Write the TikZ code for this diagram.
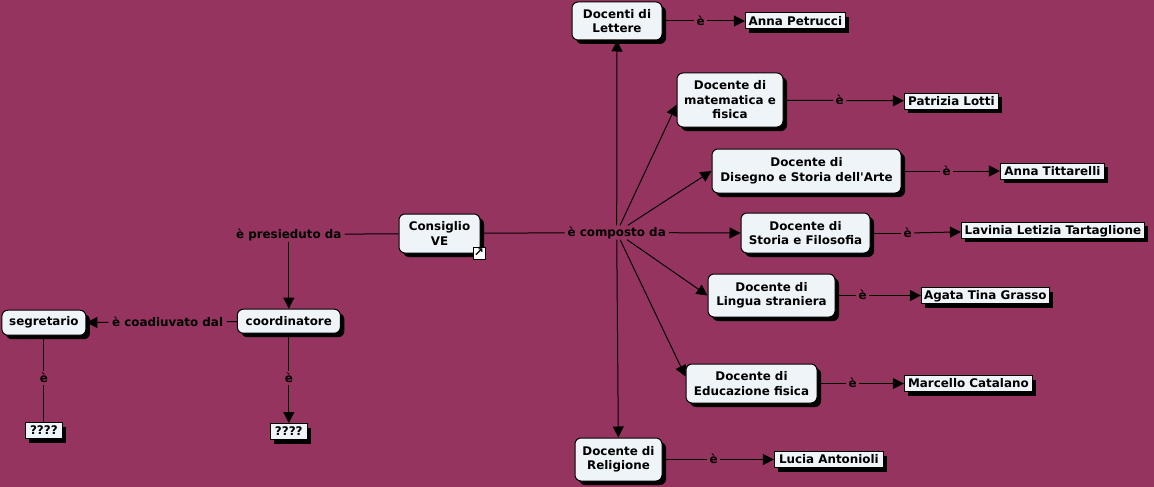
\documentclass[tikz,border=0pt]{standalone}
\usepackage{fontspec}
\newfontfamily\mapfamily{DejaVu Sans}
\usetikzlibrary{arrows.meta,positioning,shadows}
\definecolor{plumbg}{HTML}{963460}
\definecolor{boxfill}{HTML}{EEF4F7}
\newcommand{\mapfont}{\mapfamily\fontsize{11.9}{14.5}\selectfont\bfseries}
\tikzset{
  hardshadow/.style={drop shadow={shadow xshift=4pt, shadow yshift=-4pt, fill=black, opacity=1}},
  conceptbox/.style={draw=black, line width=1pt, rounded corners=6pt, align=center,
    fill=boxfill, inner sep=2pt, font=\mapfont, hardshadow},
  tallbox/.style={conceptbox, execute at begin node={\rule{0pt}{11.5pt}}},
  leafbox/.style={draw=black, line width=1pt, fill=boxfill, inner xsep=1pt, inner ysep=1pt,
    minimum height=16pt, text height=10pt, text depth=1.5pt, font=\mapfont, hardshadow},
  linklabel/.style={inner xsep=1pt, inner ysep=1pt, minimum height=14pt, minimum width=13pt,
    text height=10pt, text depth=1.5pt, font=\mapfont},
  arr/.style={-{Triangle[length=11pt,width=11pt]}, line width=1pt, draw=black},
  plainline/.style={line width=1pt, draw=black}
}
\begin{document}
\begin{tikzpicture}[x=1pt,y=-1pt]
  \useasboundingbox (0,0) rectangle (1154,487);
  \fill[plumbg] (0,0) rectangle (1154,487);
  % centre
  \node[tallbox, minimum width=81pt, minimum height=39pt] (consiglio) at (439.5,233.5) {Consiglio\\VE};
  \node[draw=black, fill=white, line width=1pt, minimum size=12pt, inner sep=0pt, font=\mapfamily\fontsize{12}{12}\selectfont\bfseries] (linkicon) at (479,253) {↗};
  \node[linklabel, minimum width=104pt, right=84pt of consiglio, yshift=1pt] (composto) {è composto da};
  \node[linklabel, minimum width=111pt, left=54pt of consiglio, yshift=-1pt] (presieduto) {è presieduto da};
  % left side
  \node[conceptbox, minimum width=103pt, minimum height=24pt, below=67pt of presieduto] (coordinatore) {coordinatore};
  \node[linklabel, minimum width=118pt, left=10pt of coordinatore, yshift=-1pt] (coadiuvato) {è coadiuvato dal};
  \node[conceptbox, minimum width=84pt, minimum height=25pt, left=22pt of coadiuvato, yshift=-0.5pt] (segretario) {segretario};
  \node[linklabel, below=37pt of coordinatore] (ecoord) {è};
  \node[leafbox, minimum width=37pt, below=38pt of ecoord] (qcoord) {????};
  \node[linklabel, below=35pt of segretario] (eseg) {è};
  \node[leafbox, minimum width=37pt, below=37pt of eseg] (qseg) {????};
  % teachers
  \node[tallbox, minimum width=90pt, minimum height=38pt] (lettere) at (617,21) {Docenti di\\Lettere};
  \node[tallbox, minimum width=106pt, minimum height=54pt] (matematica) at (730,100) {Docente di\\matematica e\\fisica};
  \node[tallbox, minimum width=189pt, minimum height=44pt] (disegno) at (806.5,171) {Docente di\\Disegno e Storia dell'Arte};
  \node[tallbox, minimum width=129pt, minimum height=40pt] (storia) at (805.5,233) {Docente di\\Storia e Filosofia};
  \node[tallbox, minimum width=127pt, minimum height=43pt] (lingua) at (771.5,295.5) {Docente di\\Lingua straniera};
  \node[tallbox, minimum width=131pt, minimum height=39pt] (educazione) at (751.5,383.5) {Docente di\\Educazione fisica};
  \node[tallbox, minimum width=87pt, minimum height=43pt] (religione) at (618.5,459.5) {Docente di\\Religione};
  % names
  \node[linklabel, right=31.5pt of lettere] (elettere) {è};
  \node[leafbox, minimum width=100pt, right=37.5pt of elettere] (petrucci) {Anna Petrucci};
  \node[linklabel, right=49.5pt of matematica, yshift=-0.5pt] (emat) {è};
  \node[leafbox, minimum width=94pt, right=57.5pt of emat, yshift=-0.5pt] (lotti) {Patrizia Lotti};
  \node[linklabel, right=38.5pt of disegno] (edis) {è};
  \node[leafbox, minimum width=104pt, right=46.5pt of edis] (tittarelli) {Anna Tittarelli};
  \node[linklabel, right=30.5pt of storia] (esto) {è};
  \node[leafbox, minimum width=183pt, right=46.5pt of esto, yshift=3pt] (tartaglione) {Lavinia Letizia Tartaglione};
  \node[linklabel, right=20.5pt of lingua] (elin) {è};
  \node[leafbox, minimum width=128pt, right=51.5pt of elin] (grasso) {Agata Tina Grasso};
  \node[linklabel, right=28.5pt of educazione] (eedu) {è};
  \node[leafbox, minimum width=128pt, right=44.5pt of eedu] (catalano) {Marcello Catalano};
  \node[linklabel, right=44.5pt of religione] (erel) {è};
  \node[leafbox, minimum width=109pt, right=53.5pt of erel] (antonioli) {Lucia Antonioli};
  % connectors
  \draw[plainline] (consiglio) -- (presieduto);
  \draw[plainline] (consiglio) -- (composto);
  \draw[arr] (presieduto) -- (coordinatore);
  \draw[plainline] (coordinatore) -- (coadiuvato);
  \draw[arr] (coadiuvato) -- (segretario);
  \draw[plainline] (coordinatore) -- (ecoord);
  \draw[arr] (ecoord) -- (qcoord);
  \draw[plainline] (segretario) -- (eseg);
  \draw[plainline] (eseg) -- (qseg);
  \draw[arr] (composto) -- (lettere);
  \draw[arr] (composto) -- (matematica.185);
  \draw[arr] (composto) -- (disegno.west);
  \draw[arr] (composto) -- (storia.west);
  \draw[arr] (composto) -- (lingua.west);
  \draw[arr] (composto) -- (educazione.174);
  \draw[arr] (composto) -- (religione);
  \draw[plainline] (lettere) -- (elettere);
  \draw[arr] (elettere) -- (petrucci);
  \draw[plainline] (matematica) -- (emat);
  \draw[arr] (emat) -- (lotti);
  \draw[plainline] (disegno) -- (edis);
  \draw[arr] (edis) -- (tittarelli);
  \draw[plainline] (storia) -- (esto);
  \draw[arr] (esto) -- (tartaglione);
  \draw[plainline] (lingua) -- (elin);
  \draw[arr] (elin) -- (grasso);
  \draw[plainline] (educazione) -- (eedu);
  \draw[arr] (eedu) -- (catalano);
  \draw[plainline] (religione) -- (erel);
  \draw[arr] (erel) -- (antonioli);
\end{tikzpicture}
\end{document}
